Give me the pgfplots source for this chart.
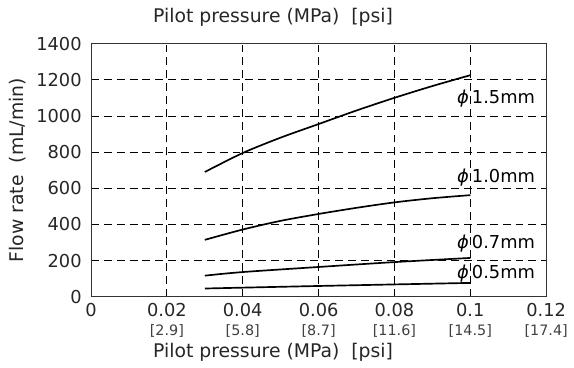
\documentclass[border=0pt]{standalone}
\usepackage{fontspec}
\setmainfont{DejaVu Sans}
\usepackage{pgfplots}
\pgfplotsset{compat=1.18}
\newcommand\br[1]{{\fontsize{14.5}{16}\selectfont\color{black!75}[#1]}}
\newcommand\ph{{\itshape ϕ}\,}
\begin{document}
\fontsize{19}{22}\selectfont
\begin{tikzpicture}
\begin{axis}[
  scale only axis, width=460pt, height=256pt,
  xmin=0, xmax=0.12, ymin=0, ymax=1400,
  xtick={0,0.02,0.04,0.06,0.08,0.1,0.12},
  xticklabels={0, 0.02\\\br{2.9}, 0.04\\\br{5.8}, 0.06\\\br{8.7}, 0.08\\\br{11.6}, 0.1\\\br{14.5}, 0.12\\\br{17.4}},
  ytick={0,200,400,600,800,1000,1200,1400},
  yticklabels={0,200,400,600,800,1000,1200,1400},
  grid=major,
  grid style={black, line width=0.8pt, dash pattern=on 8pt off 5pt},
  major tick length=0pt,
  axis line style={line width=0.9pt, black!80},
  tick label style={font=\fontsize{18}{19}\selectfont, text=black!85},
  x tick label style={align=center, yshift=0pt},
  y tick label style={xshift=-3pt},
  /pgf/number format/assume math mode=true,
  clip=false,
]
\addplot[black, line width=1.7pt, smooth] coordinates {(0.03,690) (0.04,795) (0.05,880) (0.06,955) (0.07,1030) (0.08,1100) (0.09,1165) (0.1,1225)};
\addplot[black, line width=1.7pt, smooth] coordinates {(0.03,315) (0.04,372) (0.05,420) (0.06,458) (0.07,492) (0.08,522) (0.09,545) (0.1,562)};
\addplot[black, line width=1.7pt, smooth] coordinates {(0.03,117) (0.04,137) (0.06,165) (0.08,192) (0.1,215)};
\addplot[black, line width=1.7pt, smooth] coordinates {(0.03,46) (0.06,60) (0.1,77)};
\node[inner sep=1pt, font=\fontsize{18}{20}\selectfont] at (axis cs:0.1068,1097) {\ph1.5mm};
\node[inner sep=1pt, font=\fontsize{18}{20}\selectfont] at (axis cs:0.1068,659) {\ph1.0mm};
\node[inner sep=1pt, font=\fontsize{18}{20}\selectfont] at (axis cs:0.1068,293) {\ph0.7mm};
\node[inner sep=1pt, font=\fontsize{18}{20}\selectfont] at (axis cs:0.1068,126) {\ph0.5mm};
\node[text=black!85] at ([yshift=26pt]rel axis cs:0.4,1) {Pilot pressure (MPa)\ \ [psi]};
\node[text=black!85] at ([yshift=-56pt]rel axis cs:0.4,0) {Pilot pressure (MPa)\ \ [psi]};
\node[text=black!85, rotate=90] at ([xshift=-74pt]rel axis cs:0,0.5) {Flow rate\ \ (mL/min)};
\path ([xshift=-92pt,yshift=-68pt]rel axis cs:0,0) -- ([xshift=22pt,yshift=44pt]rel axis cs:1,1);
\end{axis}
\end{tikzpicture}
\end{document}
